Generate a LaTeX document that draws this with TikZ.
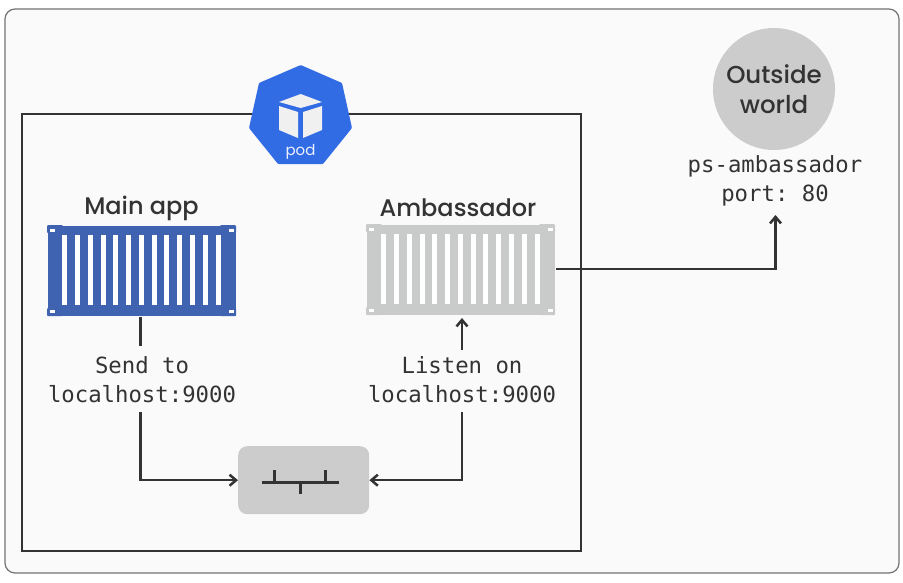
\documentclass[tikz,border=0pt]{standalone}
\usepackage{fontspec}
\setmainfont{Poppins}
\newfontfamily\titlefont{Poppins Medium}
\setmonofont{DejaVu Sans Mono}
\usetikzlibrary{arrows.meta}
\definecolor{ink}{HTML}{333333}
\definecolor{podblue}{HTML}{326CE5}
\definecolor{appblue}{HTML}{3F63B0}
\definecolor{ambgray}{HTML}{C8CBC9}
\definecolor{softgray}{HTML}{CCCCCC}
\definecolor{card}{HTML}{FBFAFB}
\tikzset{
  x=1pt,y=-1pt,
  conn/.style={draw=ink,line width=2.5pt},
  arr/.style={conn,-{Straight Barb[length=6.5pt,width=11pt,line width=2.5pt]}},
  title/.style={font=\titlefont\fontsize{24}{26}\selectfont,text=ink,inner sep=0pt},
  mono/.style={font=\ttfamily\fontsize{22.3}{29}\selectfont,text=ink,align=center,inner sep=0pt},
  box/.style={inner sep=0pt,minimum width=#1,anchor=north west},
}
\newcommand{\shipbox}[3]{%
  \begin{scope}[shift={(#1,#2)}]
    \fill[#3] (1,1) rectangle (189,91);
    \foreach \cx/\cy in {0/0,173/0,0/83,173/83}{\fill[#3,rounded corners=1pt] (\cx,\cy) rectangle ++(16,8);}
    \foreach \i in {0,...,12}{\fill[white] ({15.2+12.78*\i},10) rectangle ++(5,70);}
    \foreach \cx/\cy in {3/3.5,182/3.5,3/84.5,182/84.5}{\fill[white] (\cx,\cy) rectangle ++(5,3);}
  \end{scope}}
\begin{document}
\begin{tikzpicture}
\useasboundingbox (0,0) rectangle (903,582);
\fill[white] (0,0) rectangle (903,582);
\draw[draw=black!55,fill=card,line width=1.2pt,rounded corners=10pt] (5,9) rectangle (899,573);
\draw[draw=ink,line width=2.5pt] (22,114) rectangle (581,551);
% pod badge
\fill[podblue,rounded corners=1pt] (300.7,65)--(342,83)--(352,128)--(323,164)--(278,164)--(249,128)--(259,83)--cycle;
\fill[white!94!black] (300.7,94)--(322,102)--(300.7,108)--(279,102)--cycle;
\fill[white!94!black] (279,106)--(298,112)--(298,138)--(279,130)--cycle;
\fill[white!94!black] (303,112)--(322,106)--(322,130)--(303,138)--cycle;
\node[font=\fontsize{15}{16}\selectfont,text=white!90!podblue,inner sep=0pt] (podlabel) at (300.5,152) {pod};
% containers
\shipbox{47}{225}{appblue}
\shipbox{366}{224}{ambgray}
\node[box=189pt,minimum height=91pt] (mainapp) at (47,225) {};
\node[box=189pt,minimum height=91pt] (amb) at (366,224) {};
\node[title] (maintitle) at (141.5,208) {Main app};
\node[title] (ambtitle) at (458,208) {Ambassador};
% labels
\node[mono] (sendlbl) at (142,379.5) {Send to\\localhost:9000};
\node[mono] (listenlbl) at (462,379.5) {Listen on\\localhost:9000};
% switch
\node[fill=softgray,rounded corners=9pt,box=131pt,minimum height=68pt] (sw) at (238,446) {};
\draw[ink,line width=2.5pt] (262,482.5) -- (339,482.5) (274.5,482.5) -- (274.5,470) (325.5,482.5) -- (325.5,470) (300.5,482.5) -- (300.5,494);
% outside world
\node[circle,fill=softgray,minimum size=122pt,inner sep=0pt,align=center,font=\titlefont\fontsize{24.5}{30}\selectfont,text=ink] (world) at (774,89) {Outside\\world};
\node[mono] (portlbl) at (775,181) {ps-ambassador\\port: 80};
% connectors
\coordinate (a1) at (140.5,317);
\coordinate (a2) at (140.5,346);
\coordinate (a3) at (140.5,412);
\coordinate (b1) at (462,350);
\coordinate (b2) at (462,318);
\coordinate (b3) at (462,412);
\coordinate (c1) at (556,269);
\coordinate (c2) at (775.5,215);
\draw[conn] (a1) -- (a2);
\draw[arr] (a3) |- (sw.west);
\draw[arr] (b1) -- (b2);
\draw[arr] (b3) |- (sw.east);
\draw[arr] (c1) -| (c2);
\end{tikzpicture}
\end{document}
